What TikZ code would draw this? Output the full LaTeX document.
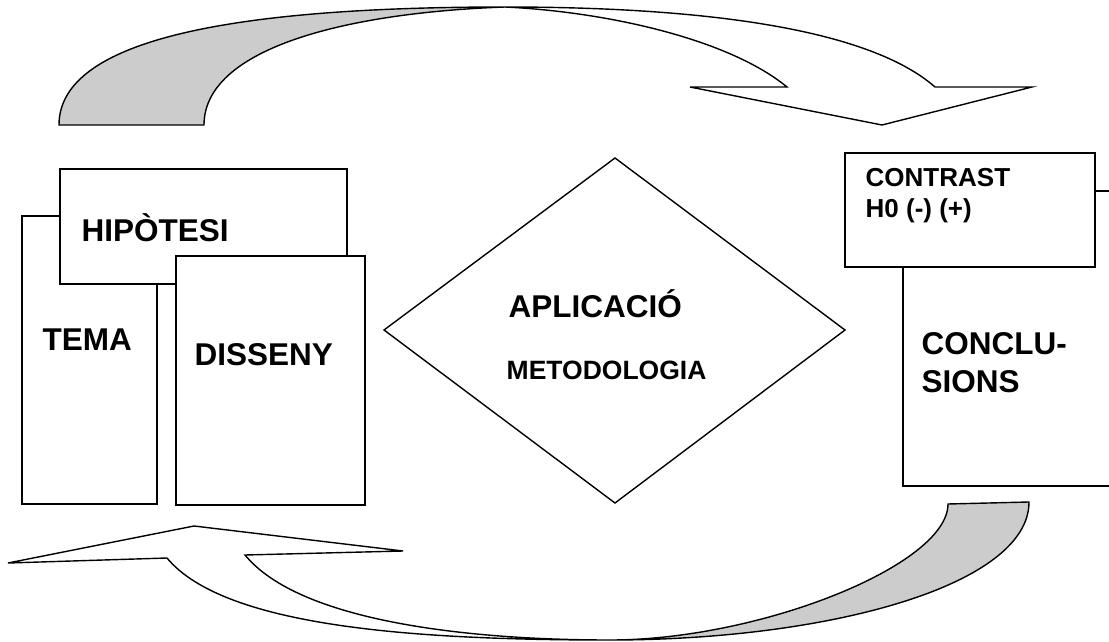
\documentclass[tikz,border=0pt]{standalone}
\usepackage{fontspec}
\setmainfont{Liberation Sans}
\begin{document}
\begin{tikzpicture}[x=1pt,y=-1pt, line width=1.4pt, line join=miter,
  lbl/.style={anchor=base west, inner sep=0pt, font=\bfseries\fontsize{31.5}{37.8}\selectfont},
  slbl/.style={anchor=base west, inner sep=0pt, font=\bfseries\fontsize{26.5}{31}\selectfont},
  boxw/.style={draw=black, fill=white},
  band/.style={draw=black, fill=black!20}]
\useasboundingbox (0,0) rectangle (1109,642);
\fill[white] (0,0) rectangle (1109,642);
\clip (0,0) rectangle (1109,642);

% top curved arrow
\draw[band] (59,125) .. controls (59,40) and (230,7) .. (505,7)
  .. controls (340,13) and (204,50) .. (204,125) -- cycle;
\draw (505,7) .. controls (710,7) and (870,30) .. (935,87) -- (1032,87)
  -- (882,125) -- (690,87) -- (787,87) .. controls (730,40) and (610,12) .. (505,7);

% bottom curved arrow
\draw (610,640) .. controls (420,640) and (225,628) .. (167,558) -- (8,563)
  -- (194,526) -- (403,551) -- (245,555) .. controls (300,622) and (470,640) .. (610,640);
\draw[band] (610,640) .. controls (760,640) and (948,565) .. (948,504) -- (1029,502)
  .. controls (1029,585) and (830,640) .. (610,640) -- cycle;

% left group
\draw[boxw] (22,216) rectangle (157,504);
\draw[boxw] (60,169) rectangle (347,284);
\draw[boxw] (176,256) rectangle (365,505);
\node[lbl] (hip) at (81,241) {HIPÒTESI};
\node[lbl] (tema) at (42,350) {TEMA};
\node[lbl] (dis) at (194,365) {DISSENY};

% diamond
\draw (384,330) -- (615,158) -- (845,330) -- (615,503) -- cycle;
\node[lbl] (apl) at (508,317) {APLICACIÓ};
\node[slbl] (met) at (506,379) {METODOLOGIA};

% right group
\draw[boxw] (903,191) rectangle (1130,486);
\draw[boxw] (845,153) rectangle (1095,267);
\node[slbl, font=\bfseries\fontsize{26}{31}\selectfont] (con) at (865,186) {CONTRAST};
\node[slbl, font=\bfseries\fontsize{26}{31}\selectfont] (h0) at (865,217) {H0 (-) (+)};
\node[lbl] (cc1) at (921,354) {CONCLU-};
\node[lbl] (cc2) at (921,392) {SIONS};
\end{tikzpicture}
\end{document}
